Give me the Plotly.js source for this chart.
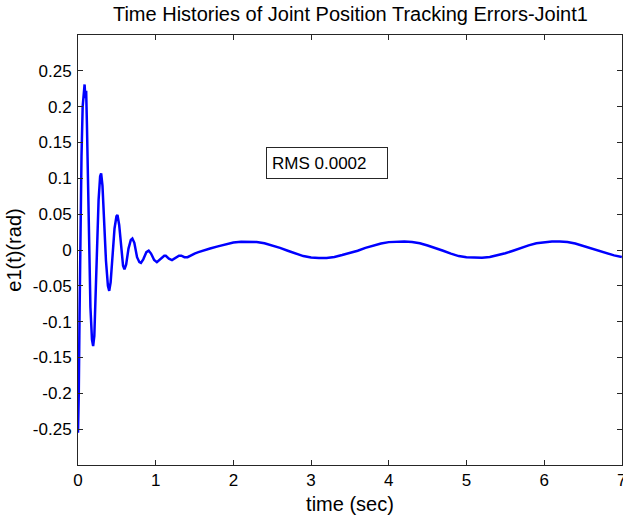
<!DOCTYPE html>
<html>
<head>
<meta charset="utf-8">
<script src="https://cdn.plot.ly/plotly-3.0.1.min.js"></script>
<style>html,body{margin:0;padding:0;background:#fff;}#chart{width:623px;height:515px;}</style>
</head>
<body>
<div id="chart"></div>
<script>
// time (sec) and tracking error e1(t) (rad)
const timeSec = [
  0.000, 0.010, 0.020, 0.030, 0.045, 0.060, 0.075, 0.085, 0.095, 0.105,
  0.115, 0.130, 0.145, 0.160, 0.180, 0.195, 0.210, 0.225, 0.245, 0.265,
  0.285, 0.298, 0.315, 0.335, 0.360, 0.385, 0.402, 0.420, 0.445, 0.470,
  0.495, 0.508, 0.530, 0.555, 0.580, 0.598, 0.620, 0.650, 0.680, 0.700,
  0.725, 0.760, 0.790, 0.810, 0.840, 0.880, 0.910, 0.940, 0.980, 1.015,
  1.060, 1.110, 1.130, 1.170, 1.210, 1.260, 1.300, 1.330, 1.370, 1.410,
  1.460, 1.500, 1.550, 1.600, 1.650, 1.700, 1.800, 1.900, 2.000, 2.100,
  2.200, 2.300, 2.400, 2.500, 2.600, 2.700, 2.800, 2.900, 3.000, 3.100,
  3.200, 3.300, 3.400, 3.500, 3.600, 3.700, 3.800, 3.900, 4.000, 4.100,
  4.200, 4.300, 4.400, 4.500, 4.600, 4.700, 4.800, 4.900, 5.000, 5.100,
  5.200, 5.300, 5.400, 5.500, 5.600, 5.700, 5.800, 5.900, 6.000, 6.100,
  6.200, 6.300, 6.400, 6.500, 6.600, 6.700, 6.800, 6.900, 7.000
];
const e1Rad = [
  -0.255, -0.200, -0.090, 0.020, 0.130, 0.200, 0.228, 0.231, 0.212, 0.222,
  0.175, 0.080, -0.020, -0.080, -0.125, -0.134, -0.120, -0.070, 0.010, 0.070,
  0.103, 0.107, 0.090, 0.040, -0.015, -0.050, -0.057, -0.045, -0.005, 0.030,
  0.047, 0.049, 0.035, 0.005, -0.022, -0.027, -0.020, 0.002, 0.014, 0.016,
  0.010, -0.010, -0.017, -0.018, -0.013, -0.003, -0.001, -0.005, -0.014, -0.017,
  -0.013, -0.008, -0.008, -0.012, -0.014, -0.011, -0.008, -0.008, -0.010, -0.010,
  -0.007, -0.005, -0.003, -0.001, 0.001, 0.002, 0.005, 0.008, 0.0105, 0.0115,
  0.0118, 0.0113, 0.0095, 0.0065, 0.003, -0.001, -0.005, -0.0085, -0.0105, -0.0113,
  -0.011, -0.0097, -0.007, -0.0045, -0.001, 0.003, 0.0065, 0.009, 0.011, 0.012,
  0.012, 0.0113, 0.0095, 0.0063, 0.003, -0.001, -0.005, -0.0085, -0.0102, -0.011,
  -0.0108, -0.0097, -0.0073, -0.0045, -0.001, 0.003, 0.0065, 0.0095, 0.011, 0.012,
  0.012, 0.0112, 0.009, 0.0058, 0.0025, -0.001, -0.0045, -0.0075, -0.0098
];
const xTickVals = [0, 1, 2, 3, 4, 5, 6, 7];
const xTickText = ["0", "1", "2", "3", "4", "5", "6", "7"];
const yTickVals = [-0.25, -0.2, -0.15, -0.1, -0.05, 0, 0.05, 0.1, 0.15, 0.2, 0.25];
const yTickText = ["-0.25", "-0.2", "-0.15", "-0.1", "-0.05", "0", "0.05", "0.1", "0.15", "0.2", "0.25"];
const titleText = "Time Histories of Joint Position Tracking Errors-Joint1";
const xTitle = "time (sec)";
const yTitle = "e1(t)(rad)";
const rmsText = "RMS 0.0002";

const FONT = "Liberation Sans, Arial, sans-serif";
const axisCommon = {
  showline: true, mirror: 'ticks', linecolor: '#262626', linewidth: 1,
  ticks: 'inside', ticklen: 5, tickwidth: 1, tickcolor: '#262626',
  showgrid: false, zeroline: false,
  tickfont: {family: FONT, size: 17, color: '#000'}
};
const data = [{
  x: timeSec, y: e1Rad, type: 'scatter', mode: 'lines',
  line: {color: '#0000FF', width: 2.5}, hoverinfo: 'skip'
}];
const layout = {
  width: 623, height: 515,
  margin: {l: 78, r: 1, t: 35, b: 50},
  paper_bgcolor: '#fff', plot_bgcolor: '#fff',
  showlegend: false,
  title: {text: titleText, font: {family: FONT, size: 20, color: '#000'}, x: 0.5625, xanchor: 'center', y: 0.987, yanchor: 'top'},
  xaxis: Object.assign({}, axisCommon, {
    range: [0, 7.002], tickvals: xTickVals, ticktext: xTickText,
    ticklabeloverflow: 'allow',
    title: {text: xTitle, font: {family: FONT, size: 20, color: '#000'}, standoff: 8}
  }),
  yaxis: Object.assign({}, axisCommon, {
    range: [-0.3, 0.3], tickvals: yTickVals, ticktext: yTickText,
    ticklabelstandoff: 2,
    title: {text: yTitle, font: {family: FONT, size: 20, color: '#000'}, standoff: 5}
  }),
  annotations: [{
    x: 3.21, y: 0.121, xref: 'x', yref: 'y', text: rmsText, showarrow: false,
    font: {family: FONT, size: 17, color: '#000'},
    align: 'left', width: 110, height: 20, borderpad: 5,
    bordercolor: '#262626', borderwidth: 1, bgcolor: '#fff'
  }]
};
Plotly.newPlot('chart', data, layout, {displayModeBar: false, staticPlot: true});
</script>
</body>
</html>
